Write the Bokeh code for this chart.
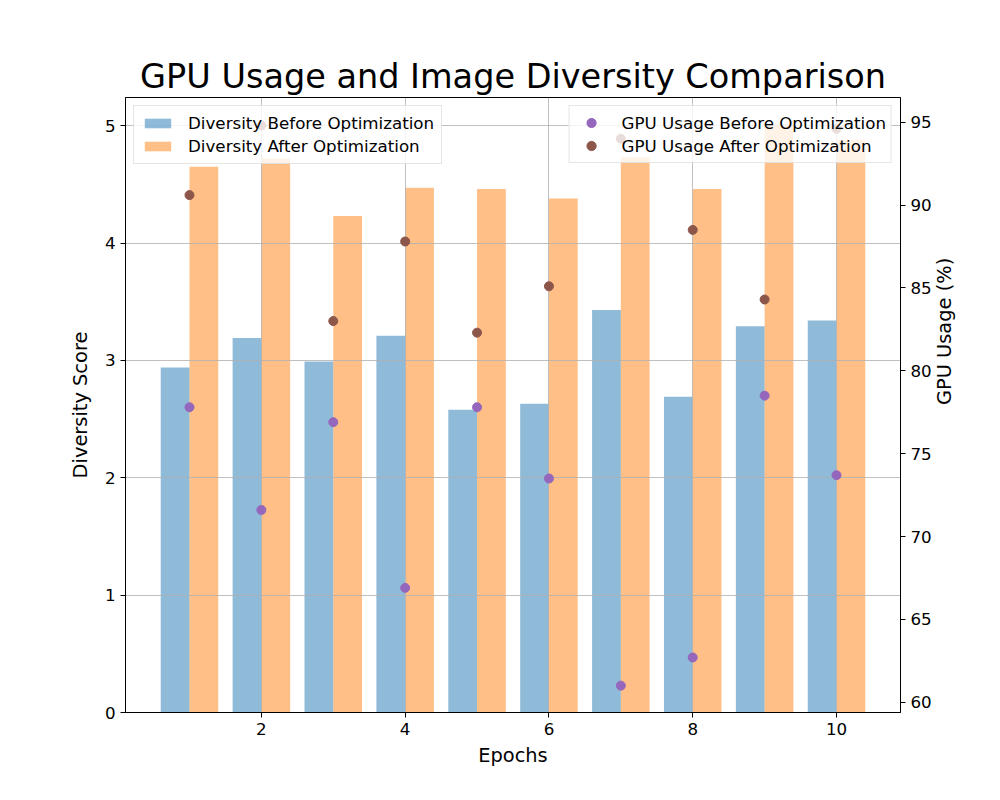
import math
from bokeh.plotting import figure
from bokeh.models import Range1d, LinearAxis, FixedTicker, Legend, LegendItem, ColumnDataSource
from bokeh.transform import dodge
from bokeh.embed import file_html
from bokeh.resources import INLINE

# ---- data ----
epochs = [1, 2, 3, 4, 5, 6, 7, 8, 9, 10]
diversity_before = [2.94, 3.19, 2.99, 3.21, 2.58, 2.63, 3.43, 2.69, 3.29, 3.34]
diversity_after = [4.65, 4.72, 4.23, 4.47, 4.46, 4.38, 4.73, 4.46, 5.01, 4.88]
gpu_before = [77.8, 71.6, 76.9, 66.9, 77.8, 73.5, 61.0, 62.7, 78.5, 73.7]
gpu_after = [90.6, 94.8, 83.0, 87.8, 82.3, 85.1, 94.0, 88.5, 84.3, 94.6]

x_ticks = [2, 4, 6, 8, 10]
left_ticks = [0, 1, 2, 3, 4, 5]
right_ticks = [60, 65, 70, 75, 80, 85, 90, 95]

title_text = "GPU Usage and Image Diversity Comparison"
x_label = "Epochs"
left_label = "Diversity Score"
right_label = "GPU Usage (%)"

FONT = "DejaVu Sans"

src = ColumnDataSource(dict(epoch=epochs, div_b=diversity_before, div_a=diversity_after,
                            gpu_b=gpu_before, gpu_a=gpu_after))

W, H = 984, 784
BL, BR, BT, BB = 125, 84, 97, 72
X0, X1 = 0.11, 10.89
Y0, Y1 = 0.0, 5.24
G0, G1 = 59.38, 96.49
p = figure(width=W, height=H, x_range=Range1d(X0, X1), y_range=Range1d(Y0, Y1),
           output_backend="svg", toolbar_location=None,
           min_border_left=BL, min_border_right=BR, min_border_top=BT, min_border_bottom=BB)
p.extra_y_ranges = {"gpu": Range1d(G0, G1)}

p.background_fill_color = "white"
p.border_fill_color = "white"
p.outline_line_color = "black"
p.outline_line_width = 1

# title
p.title.text = title_text
p.title.align = "center"
p.title.text_font = FONT
p.title.text_font_size = "33.5px"
p.title.text_font_style = "normal"
p.title.text_color = "black"
p.title.standoff = 4

# bars
r_b = p.vbar(x=dodge("epoch", -0.2, range=p.x_range), top="div_b", width=0.4, source=src,
             fill_color="#1f77b4", fill_alpha=0.5, line_color=None, level="underlay")
r_a = p.vbar(x=dodge("epoch", 0.2, range=p.x_range), top="div_a", width=0.4, source=src,
             fill_color="#ff7f0e", fill_alpha=0.5, line_color=None, level="underlay")

# scatter on right axis
s_b = p.scatter(x="epoch", y="gpu_b", source=src, size=9, fill_color="#9467bd",
                line_color="#9467bd", y_range_name="gpu")
s_a = p.scatter(x="epoch", y="gpu_a", source=src, size=9, fill_color="#8c564b",
                line_color="#8c564b", y_range_name="gpu")

# axes
def style_axis(ax, fs="16.7px"):
    ax.axis_line_color = "black"
    ax.axis_line_width = 1
    ax.major_tick_line_color = "black"
    ax.major_tick_out = 5
    ax.major_tick_in = 0
    ax.minor_tick_line_color = None
    ax.major_label_text_font = FONT
    ax.major_label_text_font_size = fs
    ax.major_label_text_color = "black"
    ax.axis_label_text_font = FONT
    ax.axis_label_text_font_size = "19.4px"
    ax.axis_label_text_font_style = "normal"
    ax.axis_label_text_color = "black"

p.xaxis.ticker = FixedTicker(ticks=x_ticks)
p.xaxis.axis_label = x_label
p.yaxis.ticker = FixedTicker(ticks=left_ticks)
p.yaxis.axis_label = left_label
style_axis(p.xaxis[0])
style_axis(p.yaxis[0])
p.xaxis.axis_label_standoff = 6
p.yaxis.axis_label_standoff = 10

# right axis, its title reading bottom-to-top as in the reference
ax2 = LinearAxis(y_range_name="gpu", ticker=FixedTicker(ticks=right_ticks), axis_label=right_label)
style_axis(ax2)
ax2.axis_label_standoff = 10
ax2.axis_label_orientation = math.pi / 2
p.add_layout(ax2, "right")

# grid
p.xgrid.ticker = FixedTicker(ticks=x_ticks)
p.ygrid.ticker = FixedTicker(ticks=left_ticks)
for g in (p.xgrid[0], p.ygrid[0]):
    g.grid_line_color = "#b0b0b0"
    g.grid_line_width = 0.8

def style_legend(lg, gh, pad, sp):
    lg.label_text_font = FONT
    lg.label_text_font_size = "16.7px"
    lg.label_text_color = "black"
    lg.glyph_width = 33
    lg.glyph_height = gh
    lg.label_height = 20
    lg.label_standoff = 14
    lg.padding = pad
    lg.spacing = sp
    lg.margin = 8
    lg.border_line_color = "#cccccc"
    lg.border_line_width = 1
    lg.background_fill_color = "white"
    lg.background_fill_alpha = 0.8

leg1 = Legend(items=[LegendItem(label="Diversity Before Optimization", renderers=[r_b]),
                     LegendItem(label="Diversity After Optimization", renderers=[r_a])],
              location="top_left")
style_legend(leg1, 12, 7, 3)
leg1.level = "underlay"
p.add_layout(leg1)

leg2 = Legend(items=[LegendItem(label="GPU Usage Before Optimization", renderers=[s_b]),
                     LegendItem(label="GPU Usage After Optimization", renderers=[s_a])],
              location="top_right")
style_legend(leg2, 23, 5, 0)
p.add_layout(leg2)

open("out.html", "w").write(file_html(p, INLINE))
